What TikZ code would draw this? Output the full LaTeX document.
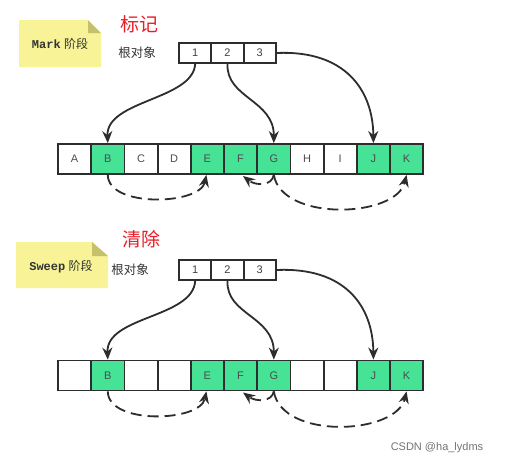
\documentclass[tikz,border=0pt]{standalone}
\usepackage{fontspec}
\setmainfont{Liberation Sans}
\newfontfamily\cjk{Noto Sans CJK SC}
\newfontfamily\monof{Liberation Mono}
\usetikzlibrary{arrows.meta}
\definecolor{cellgreen}{RGB}{70,226,150}
\definecolor{notey}{RGB}{247,243,150}
\definecolor{notefold}{RGB}{196,192,108}
\definecolor{edgec}{RGB}{45,45,45}
\definecolor{titlered}{RGB}{235,30,40}
\begin{document}
\begin{tikzpicture}[x=1pt,y=-1pt,
  cell/.style={draw=edgec,line width=1.8pt,minimum width=33.2pt,minimum height=30pt,inner sep=0pt,font=\fontsize{11}{11}\selectfont,text=black!70},
  gcell/.style={cell,fill=cellgreen},
  rootbox/.style={draw=edgec,line width=1.8pt,minimum width=32.3pt,minimum height=20pt,inner sep=0pt,font=\fontsize{11}{11}\selectfont,text=black!75},
  ptr/.style={draw=edgec,line width=1.8pt,-{Stealth[length=12pt,width=10pt]}},
  dptr/.style={ptr,dash pattern=on 11pt off 6pt},
  notefill/.style={fill=notey},
  foldfill/.style={fill=notefold},
  notetext/.style={font=\fontsize{12}{12}\selectfont,text=black!80},
  title/.style={font=\cjk\fontsize{19}{19}\selectfont,text=titlered},
  rootlbl/.style={font=\cjk\fontsize{12.5}{12.5}\selectfont,text=black!80}]
\useasboundingbox (0,0) rectangle (507,466);
\fill[white] (0,0) rectangle (507,466);

% ---------- Mark phase ----------
\fill[notefill] (19,20) -- (88,20) -- (101,33) -- (101,67) -- (19,67) -- cycle;
\fill[foldfill] (88,20) -- (88,33) -- (101,33) -- cycle;
\node[notetext] (notemark) at (60,44) {{\monof\bfseries Mark} {\cjk 阶段}};
\node[title] (t1) at (139,24) {标记};
\node[rootlbl] (rl1) at (137,53) {根对象};

\node[rootbox] (ra1) at (195.2,53) {1};
\node[rootbox] (rb1) at (227.5,53) {2};
\node[rootbox] (rc1) at (259.8,53) {3};

\foreach \l/\x/\s in {A/74.6/cell,B/107.8/gcell,C/141.0/cell,D/174.2/cell,E/207.4/gcell,F/240.6/gcell,G/273.8/gcell,H/307.0/cell,I/340.2/cell,J/373.4/gcell,K/406.6/gcell}
  \node[\s] (\l1) at (\x,159) {\l};

\draw[ptr] (ra1.south) .. controls (193,100) and (106,100) .. (B1.north);
\draw[ptr] (rb1.south) .. controls (226,98) and (274,100) .. (G1.north);
\draw[ptr] (rc1.east) .. controls (345,50) and (373,90) .. (J1.north);

\draw[dptr] (B1.south) .. controls (108,208) and (200,205) .. ([xshift=-1pt]E1.south);
\draw[dptr] (G1.south) .. controls (272,186) and (256,186) .. (243,176);
\draw[dptr] (G1.south) .. controls (282,222) and (396,218) .. (K1.south);

% ---------- Sweep phase ----------
\fill[notefill] (16,242) -- (92,242) -- (108,256) -- (108,288) -- (16,288) -- cycle;
\fill[foldfill] (92,242) -- (92,256) -- (108,256) -- cycle;
\node[notetext] (notesweep) at (61,267) {{\monof\bfseries Sweep} {\cjk 阶段}};
\node[title] (t2) at (141,239) {清除};
\node[rootlbl] (rl2) at (130,270) {根对象};

\node[rootbox] (ra2) at (195.2,270) {1};
\node[rootbox] (rb2) at (227.5,270) {2};
\node[rootbox] (rc2) at (259.8,270) {3};

\foreach \l/\x/\s/\t in {A/74.6/cell/,B/107.8/gcell/B,C/141.0/cell/,D/174.2/cell/,E/207.4/gcell/E,F/240.6/gcell/F,G/273.8/gcell/G,H/307.0/cell/,I/340.2/cell/,J/373.4/gcell/J,K/406.6/gcell/K}
  \node[\s] (\l2) at (\x,375.5) {\t};

\draw[ptr] (ra2.south) .. controls (193,318) and (106,316) .. (B2.north);
\draw[ptr] (rb2.south) .. controls (226,315) and (274,316) .. (G2.north);
\draw[ptr] (rc2.east) .. controls (345,267) and (373,306) .. (J2.north);

\draw[dptr] (B2.south) .. controls (108,425) and (200,422) .. ([xshift=-1pt]E2.south);
\draw[dptr] (G2.south) .. controls (272,402) and (256,402) .. (243,392.5);
\draw[dptr] (G2.south) .. controls (282,440) and (396,435) .. (K2.south);

\node[font=\fontsize{11}{11}\selectfont,text=black!55] (credit) at (437,448) {CSDN @ha\_lydms};
\end{tikzpicture}
\end{document}
